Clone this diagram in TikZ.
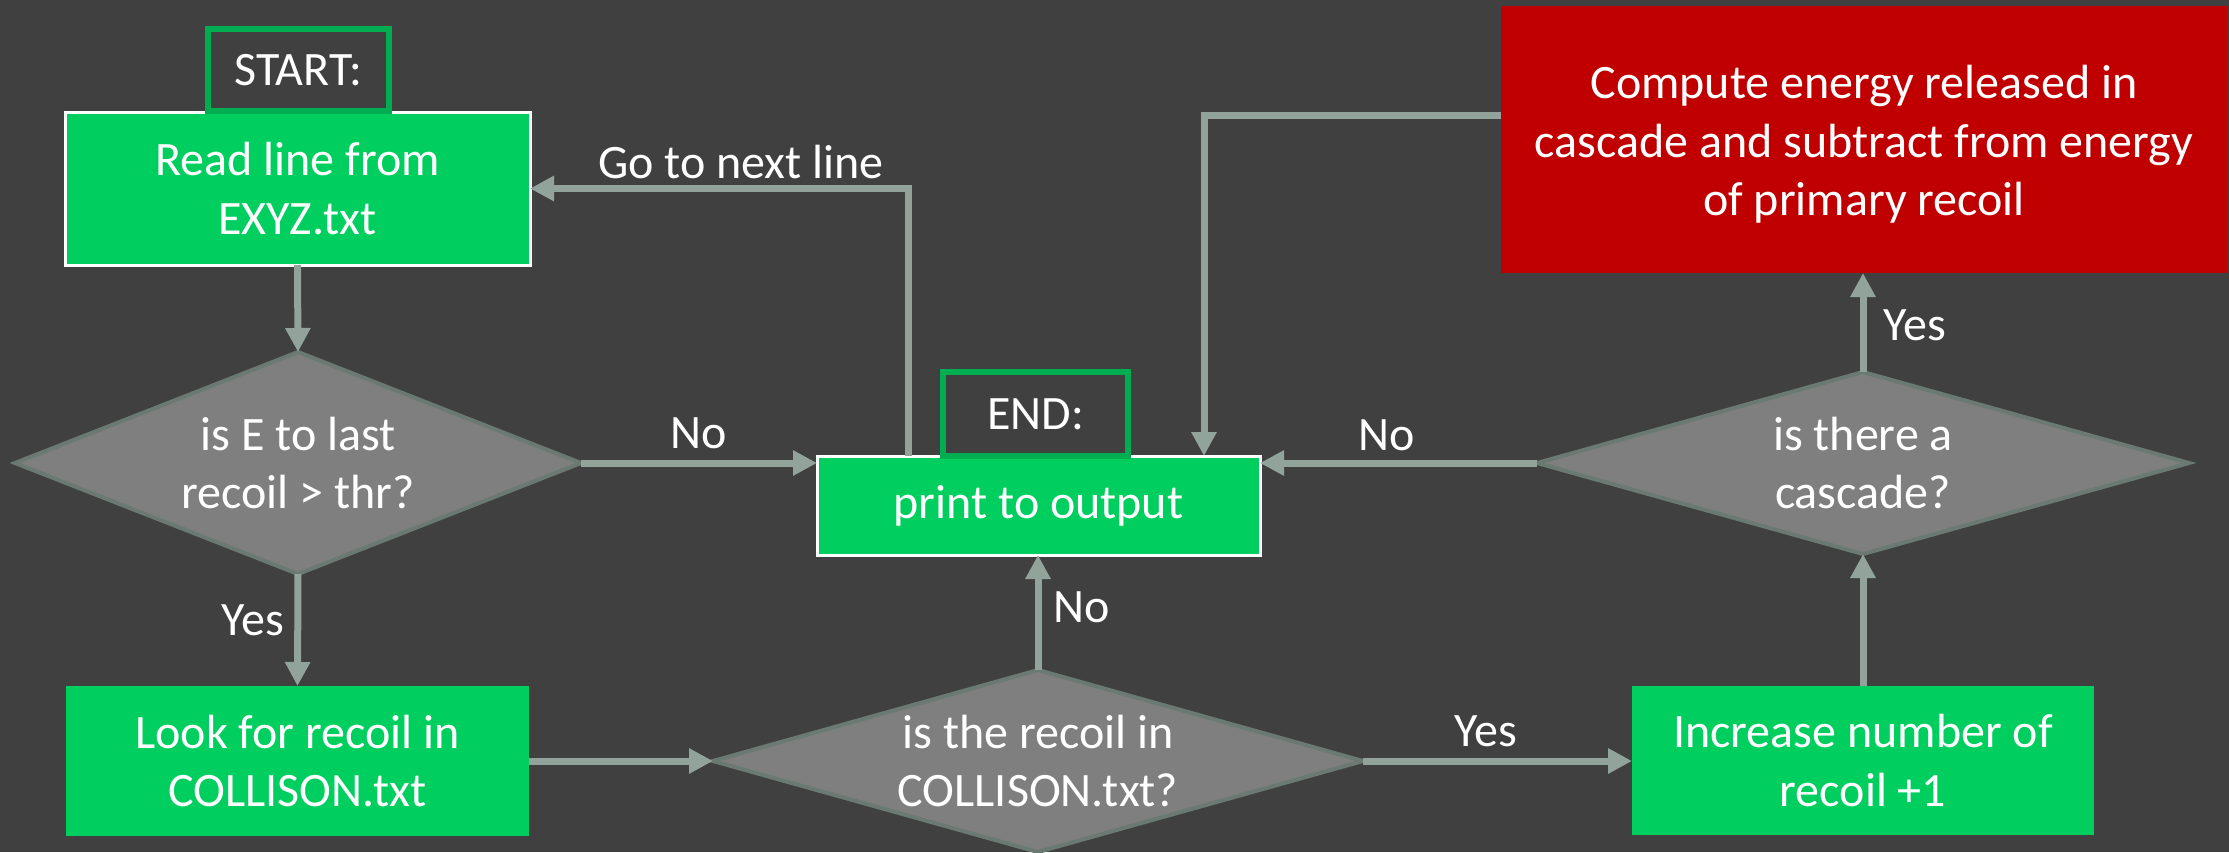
\documentclass[tikz,border=0pt]{standalone}
\usepackage{fontspec}
\setmainfont{Carlito}
\usetikzlibrary{arrows.meta,shapes.geometric}
\definecolor{bg}{HTML}{404040}
\definecolor{grn}{HTML}{00CF60}
\definecolor{dgrn}{HTML}{00AD50}
\definecolor{rd}{HTML}{C00000}
\definecolor{dgray}{HTML}{7F7F7F}
\definecolor{dbord}{HTML}{6A7A72}
\definecolor{cgray}{HTML}{91A39A}
\newcommand\figfont{\fontsize{24pt}{29.3pt}\selectfont}
\tikzset{
  box/.style={rectangle, fill=grn, text=white, align=center, inner sep=0pt, outer sep=0pt, font=\figfont},
  wbox/.style={box, draw=white, line width=1.5pt},
  redbox/.style={box, fill=rd},
  tagbox/.style={rectangle, draw=dgrn, line width=3pt, fill=bg, text=white, inner sep=0pt, outer sep=0pt, font=\figfont},
  dia/.style={diamond, draw=dbord, fill=dgray, line width=2pt, inner sep=0pt, outer sep=0pt},
  txt/.style={text=white, align=center, inner sep=0pt, font=\figfont},
  conn/.style={draw=cgray, line width=3.5pt, -{Triangle[length=12pt,width=12pt]}},
}
\begin{document}
\begin{tikzpicture}[x=0.5pt,y=-0.5pt]
\useasboundingbox (0,0) rectangle (2229,852);
\fill[bg] (0,0) rectangle (2229,852);

% boxes
\node[wbox, minimum width=232.5pt, minimum height=76.5pt] (read) at (297.5,188.5) {Read line from\\EXYZ.txt};
\node[tagbox, minimum width=90.5pt, minimum height=41pt] (start) at (298.5,70) {START:};
\node[wbox, minimum width=221.5pt, minimum height=49.5pt] (print) at (1038.5,505.5) {print to output};
\node[tagbox, minimum width=92.5pt, minimum height=42pt] (end) at (1035.5,414) {END:};
\node[box, minimum width=231.5pt, minimum height=75pt] (look) at (297.5,761) {Look for recoil in\\COLLISON.txt};
\node[box, minimum width=231pt, minimum height=74.5pt] (incr) at (1863,760.5) {Increase number of\\recoil +1};
\node[redbox, minimum width=363pt, minimum height=133.5pt] (red) at (1864,139.5) {};
\node[txt] (redt) at ([yshift=-2.5pt]red.center) {Compute energy released in\\cascade and subtract from energy\\of primary recoil};

% decisions
\node[dia, minimum width=283pt, minimum height=111pt] (d1) at (298,463) {};
\node[txt] (d1t) at (d1) {is E to last\\recoil > thr?};
\node[dia, minimum width=325pt, minimum height=91pt] (d2) at (1038,761) {};
\node[txt] (d2t) at (d2) {is the recoil in\\COLLISON.txt?};
\node[dia, minimum width=326pt, minimum height=91pt] (d3) at (1863,463) {};
\node[txt] (d3t) at (d3) {is there a\\cascade?};

% connectors
\draw[conn] (read.south) -- (d1.north);
\draw[conn] (d1.east) -- (d1.east -| print.west);
\draw[conn] (d1.south) -- (look.north);
\draw[conn] (look.east) -- (d2.west);
\draw[conn] (d2.north) -- (d2.north |- print.south);
\draw[conn] (d2.east) -- (d2.east -| incr.west);
\draw[conn] (incr.north) -- (incr.north |- d3.south);
\draw[conn] (d3.north) -- (d3.north |- red.south);
\draw[conn] (d3.west) -- (d3.west -| print.east);
\draw[conn] ([yshift=12.25pt]red.west) -| ([xshift=82.75pt]print.north);
\draw[conn] ([xshift=-65.25pt]print.north) |- (read.east);

% labels
\node[txt] (l1) at (699,433) {No};
\node[txt] (l2) at (253,620) {Yes};
\node[txt] (l3) at (1082,607) {No};
\node[txt] (l4) at (1486,731) {Yes};
\node[txt] (l5) at (1915,325) {Yes};
\node[txt] (l6) at (1387,435) {No};
\node[txt] (l7) at (741,162) {Go to next line};
\end{tikzpicture}
\end{document}
